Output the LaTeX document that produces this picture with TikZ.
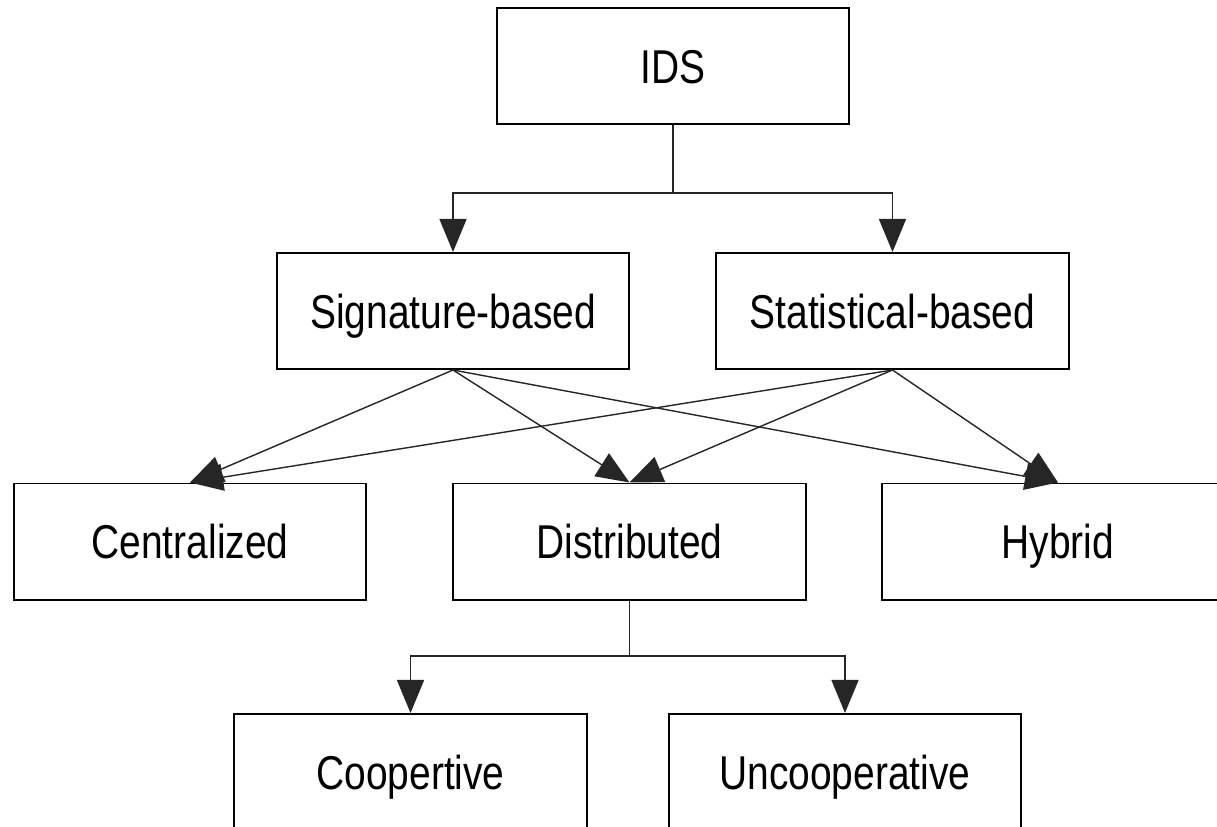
\documentclass[tikz,border=0pt]{standalone}
\usepackage{fontspec}
\setmainfont{Liberation Sans}[FakeStretch=0.82]
\usetikzlibrary{arrows.meta}
\begin{document}
\begin{tikzpicture}[x=0.01cm,y=-0.01cm,
  box/.style={draw=black,line width=0.55pt,minimum width=3.52cm,minimum height=1.16cm,inner sep=0pt,
    text height=9.7pt,text depth=0pt,font=\fontsize{13.5}{16}\selectfont},
  conn/.style={draw=black!85,line width=0.4pt},
  arr/.style={conn,-{Triangle[length=0.33cm,width=0.27cm]}}]
\useasboundingbox (0,0) rectangle (1217,827);
\clip (0,0) rectangle (1217,827);
\node[box] (ids) at (673,66) {IDS};
\node[box] (sig) at (453,311) {Signature-based};
\node[box] (stat) at (892.5,311) {Statistical-based};
\node[box] (cen) at (190,541.5) {Centralized};
\node[box] (dis) at (629.5,541.5) {Distributed};
\node[box] (hyb) at (1058,541.5) {Hybrid};
\node[box] (coo) at (410.5,772) {Coopertive};
\node[box] (unc) at (845,772) {Uncooperative};
\coordinate (j1) at (673,193);
\coordinate (j2) at (629.5,656);
\draw[conn] (ids.south) -- (j1);
\draw[arr] (j1) -| (sig.north);
\draw[arr] (j1) -| (stat.north);
\draw[arr] (sig.south) -- (cen.north);
\draw[arr] (sig.south) -- (dis.north);
\draw[arr] (sig.south) -- (hyb.north);
\draw[arr] (stat.south) -- (cen.north);
\draw[arr] (stat.south) -- (dis.north);
\draw[arr] (stat.south) -- (hyb.north);
\draw[conn] (dis.south) -- (j2);
\draw[arr] (j2) -| (coo.north);
\draw[arr] (j2) -| (unc.north);
\end{tikzpicture}
\end{document}
